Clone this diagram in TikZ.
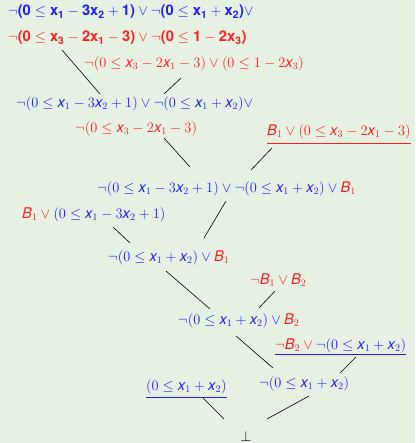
\documentclass[tikz,border=0pt]{standalone}
\usepackage{fontspec}
\setmainfont{TeX Gyre Heros}
\newfontfamily\herosfam[NFSSFamily=heros]{TeX Gyre Heros}
\DeclareSymbolFont{letters}{TU}{heros}{m}{it}
\SetSymbolFont{letters}{bold}{TU}{heros}{b}{it}
\DeclareSymbolFont{sansops}{TU}{heros}{m}{n}
\DeclareSymbolFont{boldops}{TU}{heros}{b}{n}
\DeclareMathSymbol{(}{\mathopen}{sansops}{"28}
\DeclareMathSymbol{)}{\mathclose}{sansops}{"29}
\DeclareMathSymbol{+}{\mathbin}{sansops}{"2B}
\DeclareMathSymbol{0}{\mathalpha}{sansops}{"30}
\DeclareMathSymbol{1}{\mathalpha}{sansops}{"31}
\DeclareMathSymbol{2}{\mathalpha}{sansops}{"32}
\DeclareMathSymbol{3}{\mathalpha}{sansops}{"33}
\DeclareMathSymbol{\blp}{\mathopen}{boldops}{"28}
\DeclareMathSymbol{\brp}{\mathclose}{boldops}{"29}
\DeclareMathAlphabet{\mathbf}{TU}{heros}{b}{n}
\usetikzlibrary{calc}
\definecolor{bgc}{RGB}{230,241,228}
\definecolor{fb}{RGB}{30,30,255}
\definecolor{fr}{RGB}{255,30,30}
\newcommand\xv[1]{x_{#1}}
\newcommand\xb[1]{\mathbf{x}_{\mathbf{#1}}}
\tikzset{
  fml/.style={inner sep=0pt, anchor=west, font=\fontsize{14.7}{17}\selectfont},
  conn/.style={draw=black, line width=0.6pt},
  ulrule/.style={inner sep=0pt, outer sep=0pt, anchor=north west},
}
\begin{document}
\begin{tikzpicture}[x=1pt,y=-1pt]
\fill[bgc] (0,0) rectangle (415,443);
\useasboundingbox (0,0) rectangle (415,443);
% top
\node[fml,text=fb] (t1) at (8,12) {$\neg\blp\mathbf{0} \leq \xb{1} - \mathbf{3}\xb{2} + \mathbf{1}\brp \vee \neg\blp\mathbf{0} \leq \xb{1} + \xb{2}\brp\vee$};
\node[fml,text=fr] (t2) at (8,38) {$\neg\blp\mathbf{0} \leq \xb{3} - \mathbf{2}\xb{1} - \mathbf{3}\brp \vee \neg\blp\mathbf{0} \leq \mathbf{1} - \mathbf{2}\xb{3}\brp$};
% second
\node[fml,text=fr] (s) at (84,64) {$\neg(0 \leq \xv{3} - 2\xv{1} - 3) \vee (0 \leq 1 - 2\xv{3})$};
% middle
\node[fml,text=fb] (m1) at (16,104) {$\neg(0 \leq \xv{1} - 3\xv{2} + 1) \vee \neg(0 \leq \xv{1} + \xv{2})\vee$};
\node[fml,text=fr] (m2) at (75,129) {$\neg(0 \leq \xv{3} - 2\xv{1} - 3)$};
% B1 clause
\node[fml,text=fr] (b1) at (267,132) {$B_1 \vee (0 \leq \xv{3} - 2\xv{1} - 3)$};
\path let \p1=($(b1.east)-(b1.west)$) in
  node[ulrule,text=fr] (b1u) at (b1.west |- 0,143.5) {\rule{\x1}{1pt}};
% resolvents and clauses
\node[fml,text=fb] (r1) at (97,189) {$\neg(0 \leq \xv{1} - 3\xv{2} + 1) \vee \neg(0 \leq \xv{1} + \xv{2}) \vee \color{fr}B_1$};
\node[fml,text=fb] (c1) at (22,215) {$\color{fr}B_1 \vee \color{fb}(0 \leq \xv{1} - 3\xv{2} + 1)$};
\node[fml,text=fb] (r2) at (108,258) {$\neg(0 \leq \xv{1} + \xv{2}) \vee \color{fr}B_1$};
\node[fml,text=fr] (c2) at (250,280) {$\neg B_1 \vee B_2$};
\node[fml,text=fb] (r3) at (178,321) {$\neg(0 \leq \xv{1} + \xv{2}) \vee \color{fr}B_2$};
\node[fml,text=fb] (c3) at (275,346) {$\color{fr}\neg B_2 \vee \color{fb}\neg(0 \leq \xv{1} + \xv{2})$};
\path let \p1=($(c3.east)-(c3.west)$) in
  node[ulrule,text=fb] (c3u) at (c3.west |- 0,353.5) {\rule{\x1}{1pt}};
\node[fml,text=fb] (r4) at (259,384) {$\neg(0 \leq \xv{1} + \xv{2})$};
\node[fml,text=fb] (c4) at (146,387) {$(0 \leq \xv{1} + \xv{2})$};
\path let \p1=($(c4.east)-(c4.west)$) in
  node[ulrule,text=fb] (c4u) at (c4.west |- 0,396.5) {\rule{\x1}{1pt}};
\node[fml,text=black,anchor=center] (bot) at (246,436) {$\bot$};
% connector end points
\coordinate (a1) at (62,50);  \coordinate (a2) at (100,94);
\coordinate (b1a) at (181,78); \coordinate (b1b) at (164,94);
\coordinate (c1a) at (164,138); \coordinate (c1b) at (190,167);
\coordinate (d1a) at (272,148); \coordinate (d1b) at (251,170);
\coordinate (e1a) at (226,201); \coordinate (e1b) at (204,238);
\coordinate (f1a) at (113,227); \coordinate (f1b) at (130,243);
\coordinate (g1a) at (166,271); \coordinate (g1b) at (210,309);
\coordinate (h1a) at (275,291); \coordinate (h1b) at (259,308);
\coordinate (i1a) at (236,336); \coordinate (i1b) at (273,368);
\coordinate (j1a) at (356,357); \coordinate (j1b) at (340,373);
\coordinate (k1a) at (203,398); \coordinate (k1b) at (224,419);
\coordinate (l1a) at (309,396); \coordinate (l1b) at (267,419);
\draw[conn] (a1) -- (a2);
\draw[conn] (b1a) -- (b1b);
\draw[conn] (c1a) -- (c1b);
\draw[conn] (d1a) -- (d1b);
\draw[conn] (e1a) -- (e1b);
\draw[conn] (f1a) -- (f1b);
\draw[conn] (g1a) -- (g1b);
\draw[conn] (h1a) -- (h1b);
\draw[conn] (i1a) -- (i1b);
\draw[conn] (j1a) -- (j1b);
\draw[conn] (k1a) -- (k1b);
\draw[conn] (l1a) -- (l1b);
\end{tikzpicture}
\end{document}
